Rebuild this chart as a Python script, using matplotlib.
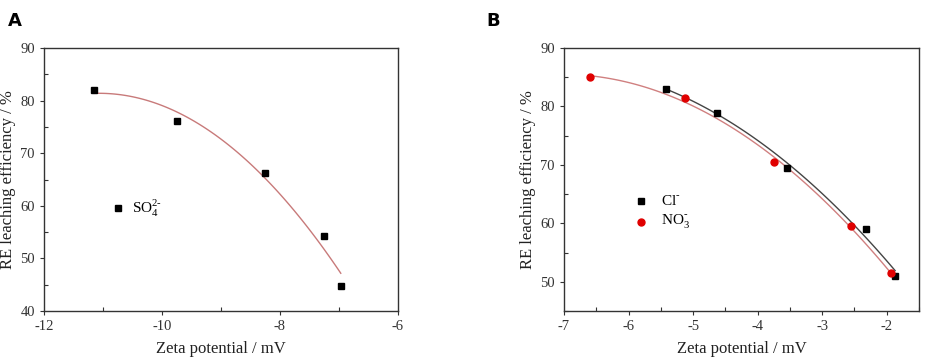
import numpy as np
import matplotlib
matplotlib.use("Agg")
from matplotlib import pyplot as plt
from matplotlib.ticker import MultipleLocator

# panel A: SO4 2-
so4_x = [-11.15, -9.75, -8.25, -7.25, -6.97]
so4_y = [82.0, 76.2, 66.2, 54.2, 44.7]

# panel B: Cl- and NO3-
cl_x = [-5.42, -4.63, -3.54, -2.32, -1.87]
cl_y = [83.0, 78.9, 69.5, 59.0, 51.0]
no3_x = [-6.59, -5.13, -3.74, -2.56, -1.93]
no3_y = [85.0, 81.5, 70.5, 59.5, 51.5]

plt.rcParams['font.family'] = ['Liberation Serif', 'DejaVu Serif']
plt.rcParams['mathtext.fontset'] = 'custom'
plt.rcParams['mathtext.rm'] = 'Liberation Serif'
plt.rcParams['axes.unicode_minus'] = False

fig = plt.figure(figsize=(9.27, 3.62), dpi=100)
ax1 = fig.add_axes([44 / 927, 1 - 311 / 362, 354 / 927, 263 / 362])
ax2 = fig.add_axes([564 / 927, 1 - 311 / 362, 355 / 927, 263 / 362])


def fit_curve(x, y):
    c = np.polyfit(x, y, 2)
    xs = np.linspace(min(x), max(x), 100)
    return xs, np.polyval(c, xs)


def style(ax):
    for s in ax.spines.values():
        s.set_color('#333333')
        s.set_linewidth(1.0)
    ax.tick_params(which='major', direction='out', length=3, width=0.8,
                   labelsize=10.5, colors='#333333', top=False, right=False)
    ax.tick_params(which='minor', direction='in', length=3, width=0.8,
                   colors='#333333', top=False, right=False)
    ax.set_xlabel('Zeta potential / mV', fontsize=12, labelpad=6, color='#222222')
    ax.set_ylabel('RE leaching efficiency / %', fontsize=12, labelpad=3, color='#222222')


# panel A
xs, ys = fit_curve(so4_x, so4_y)
ax1.plot(xs, ys, color='#c87a7a', lw=1.0)
ax1.plot(so4_x, so4_y, 's', color='black', ms=5)
ax1.plot([-10.75], [59.6], 's', color='black', ms=5)
ax1.text(-10.5, 59.6, r'SO$_4^{\mathrm{2}\text{-}}$', fontsize=11, va='center')
ax1.set_xlim(-12, -6)
ax1.set_ylim(40, 90)
ax1.xaxis.set_major_locator(MultipleLocator(2))
ax1.xaxis.set_minor_locator(MultipleLocator(1))
ax1.yaxis.set_major_locator(MultipleLocator(10))
ax1.yaxis.set_minor_locator(MultipleLocator(5))
style(ax1)

# panel B
xs, ys = fit_curve(cl_x, cl_y)
ax2.plot(xs, ys, color='#444444', lw=1.0)
xs, ys = fit_curve(no3_x, no3_y)
ax2.plot(xs, ys, color='#d08080', lw=1.0)
ax2.plot(cl_x, cl_y, 's', color='black', ms=5)
ax2.plot(no3_x, no3_y, 'o', color='#e00000', ms=5)
ax2.plot([-5.8], [63.9], 's', color='black', ms=5)
ax2.plot([-5.8], [60.3], 'o', color='#e00000', ms=5)
ax2.text(-5.5, 63.9, r'Cl$^{\text{-}}$', fontsize=11, va='center')
ax2.text(-5.5, 60.3, r'NO$_3^{\text{-}}$', fontsize=11, va='center')
ax2.set_xlim(-7, -1.5)
ax2.set_ylim(45, 90)
ax2.xaxis.set_major_locator(MultipleLocator(1))
ax2.xaxis.set_minor_locator(MultipleLocator(0.5))
ax2.yaxis.set_minor_locator(MultipleLocator(5))
ax2.set_yticks([50, 60, 70, 80, 90])
style(ax2)

fig.text(8 / 927, 1 - 21 / 362, 'A', fontsize=13, fontweight='bold',
         family='DejaVu Sans', va='center')
fig.text(486 / 927, 1 - 21 / 362, 'B', fontsize=13, fontweight='bold',
         family='DejaVu Sans', va='center')

plt.savefig('out.png', dpi=100)
